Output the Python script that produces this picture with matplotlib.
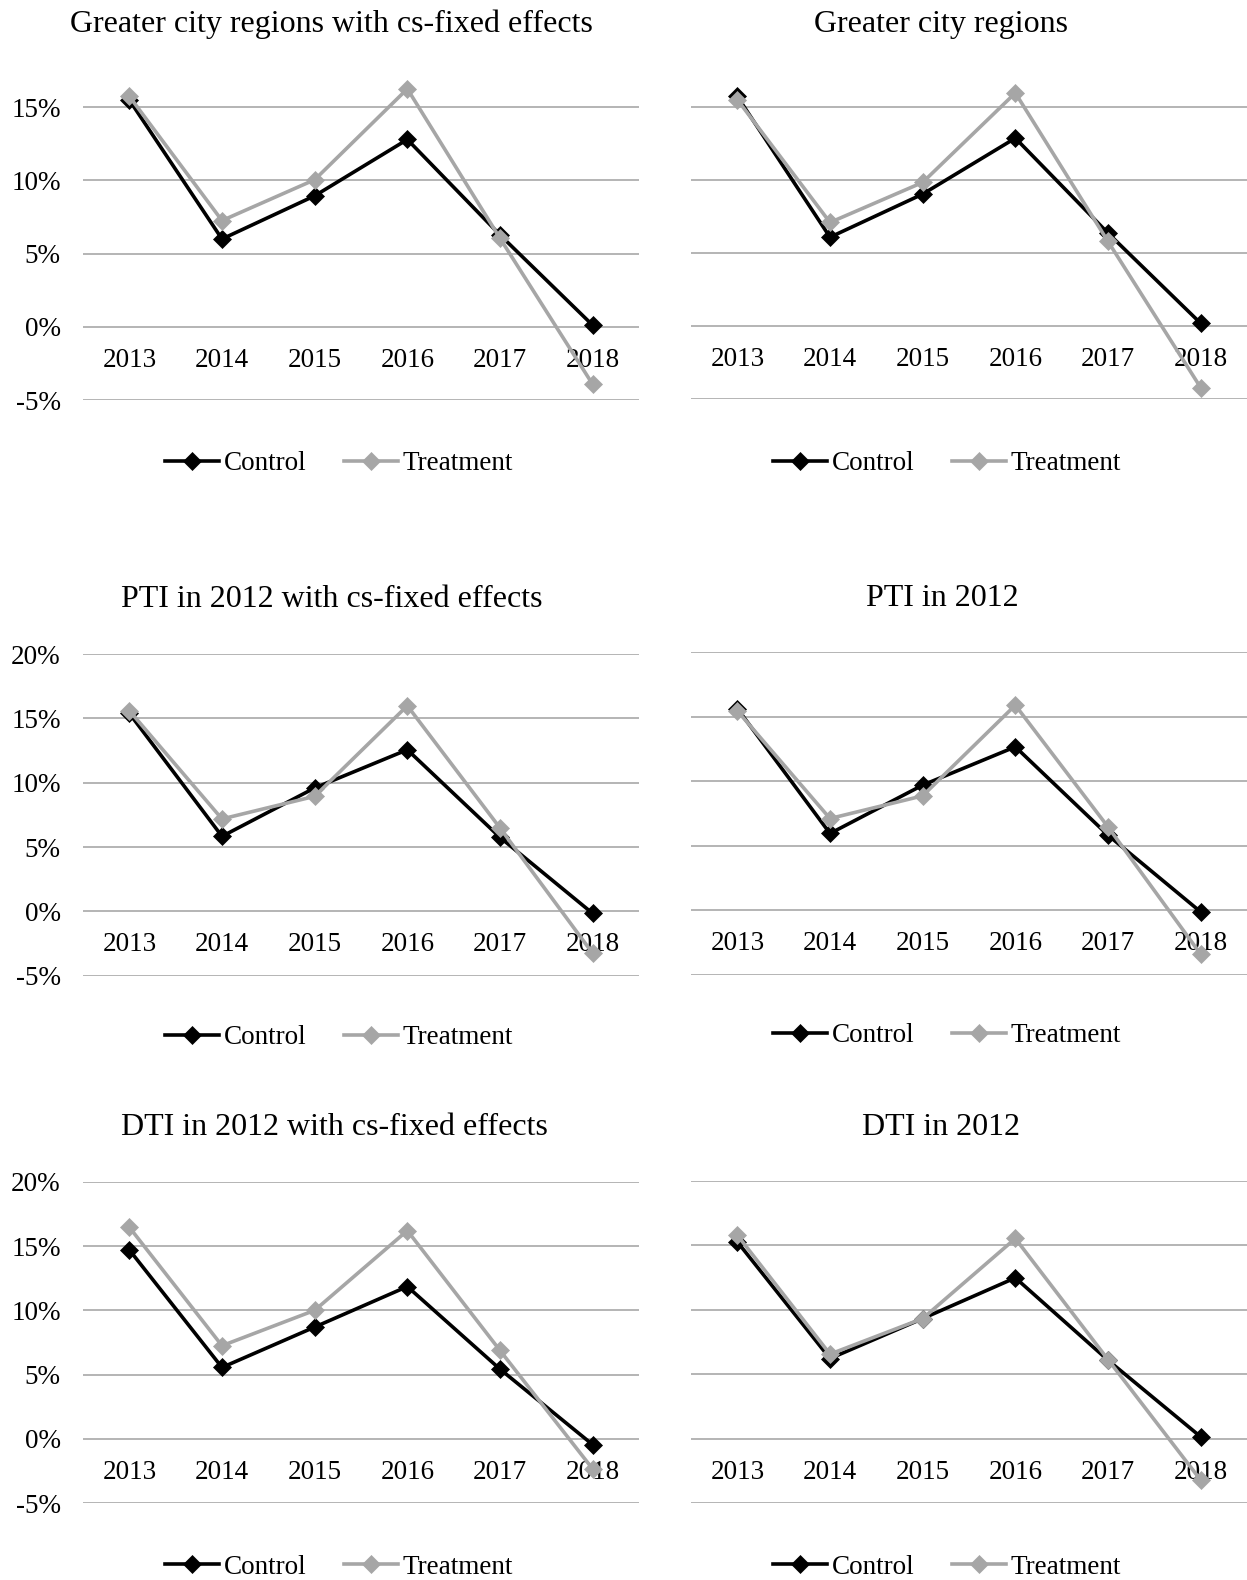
import matplotlib
matplotlib.use("Agg")
import matplotlib.pyplot as plt
from matplotlib.ticker import FuncFormatter

plt.rcParams['font.family'] = ['Liberation Serif', 'DejaVu Serif']

years = ["2013", "2014", "2015", "2016", "2017", "2018"]

# yearly growth, in percent
gcr_fe_control = [15.5, 6.0, 8.95, 12.8, 6.28, 0.11]
gcr_fe_treatment = [15.75, 7.26, 10.05, 16.26, 6.05, -3.93]
gcr_control = [15.7, 6.07, 9.02, 12.85, 6.35, 0.18]
gcr_treatment = [15.48, 7.08, 9.82, 15.94, 5.78, -4.22]
pti_fe_control = [15.39, 5.83, 9.59, 12.56, 5.75, -0.16]
pti_fe_treatment = [15.6, 7.18, 8.94, 15.98, 6.48, -3.26]
pti_control = [15.64, 5.95, 9.7, 12.67, 5.82, -0.13]
pti_treatment = [15.46, 7.11, 8.87, 15.9, 6.46, -3.41]
dti_fe_control = [14.7, 5.56, 8.7, 11.85, 5.43, -0.44]
dti_fe_treatment = [16.46, 7.25, 10.0, 16.2, 6.88, -2.33]
dti_control = [15.28, 6.23, 9.33, 12.49, 6.1, 0.16]
dti_treatment = [15.8, 6.57, 9.33, 15.54, 6.15, -3.2]

titles = ["Greater city regions with cs-fixed effects", "Greater city regions",
          "PTI in 2012 with cs-fixed effects", "PTI in 2012",
          "DTI in 2012 with cs-fixed effects", "DTI in 2012"]

W, H = 1247, 1580
fig = plt.figure(figsize=(W / 100, H / 100), dpi=100)

GRAY = "#A6A6A6"
GRID = "#A0A0A0"
FS = 19.5

# (left px, right px, px of -5%, px of top gridline, top gridline value, ylim top,
#  title centre x, title baseline y, legend centre x, legend centre y, show y labels)
panels = [
    (83, 639, 400.0, 107.3, 15, 17.5, 331, 31.7, 339, 464, True),
    (691, 1247, 399.0, 106.7, 15, 17.5, 941, 31.7, 947, 464, False),
    (83, 639, 975.7, 654.0, 20, 20.0, 332, 606.7, 339, 1038, True),
    (691, 1247, 974.7, 652.3, 20, 20.0, 942, 606.0, 947, 1036, False),
    (83, 639, 1503.3, 1181.7, 20, 20.0, 334, 1135.0, 339, 1567, True),
    (691, 1247, 1503.3, 1181.0, 20, 20.0, 941, 1135.0, 947, 1567, False),
]
series = [
    (gcr_fe_control, gcr_fe_treatment),
    (gcr_control, gcr_treatment),
    (pti_fe_control, pti_fe_treatment),
    (pti_control, pti_treatment),
    (dti_fe_control, dti_fe_treatment),
    (dti_control, dti_treatment),
]

for (left, right, y_lo, y_hi, top_tick, y_top, tx, ty, lx, ly, ylab), (ctrl, treat), title in zip(panels, series, titles):
    per_unit = (y_lo - y_hi) / (top_tick + 5)
    top_px = y_lo - (y_top + 5) * per_unit
    ax = fig.add_axes([left / W, 1 - y_lo / H, (right - left) / W, (y_lo - top_px) / H])
    x = range(len(years))
    ax.plot(x, ctrl, color="black", lw=2.6, marker="D", ms=9, mew=0.5,
            label="Control", clip_on=False, zorder=3)
    ax.plot(x, treat, color=GRAY, lw=2.6, marker="D", ms=9, mew=0.5,
            label="Treatment", clip_on=False, zorder=4)
    ax.set_xlim(-0.5, len(years) - 0.5)
    ax.set_ylim(-5, y_top)
    ax.set_yticks(range(-5, top_tick + 1, 5))
    ax.yaxis.set_major_formatter(FuncFormatter(lambda v, _: f"{int(round(v))}%"))
    ax.grid(axis="y", color=GRID, lw=1.1)
    ax.set_axisbelow(True)
    for s in ax.spines.values():
        s.set_visible(False)
    ax.spines["bottom"].set_position(("data", 0))
    ax.set_xticks(list(x))
    ax.set_xticklabels(years)
    ax.tick_params(axis="x", length=0, pad=15, labelsize=FS)
    ax.tick_params(axis="y", length=0, pad=16, labelsize=FS, labelleft=ylab)
    ax.set_facecolor("none")
    fig.text(tx / W, 1 - ty / H, title, ha="center", va="baseline", fontsize=23)
    ax.legend(loc="center", bbox_to_anchor=(lx / W, 1 - ly / H), bbox_transform=fig.transFigure,
              ncol=2, frameon=False, fontsize=FS, handlelength=2.0, handletextpad=0.15,
              columnspacing=1.4, numpoints=1, borderpad=0)

fig.savefig("out.png", dpi=100)
